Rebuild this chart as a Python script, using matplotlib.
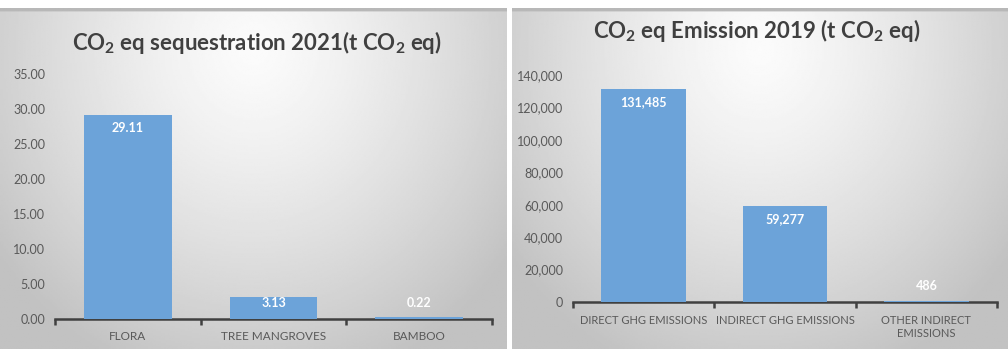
import numpy as np
import matplotlib
matplotlib.use("Agg")
import matplotlib.pyplot as plt

plt.rcParams['font.family'] = ['Lato', 'DejaVu Sans']
plt.rcParams['mathtext.fontset'] = 'custom'
plt.rcParams['mathtext.rm'] = 'Lato'
plt.rcParams['mathtext.it'] = 'Lato'
plt.rcParams['mathtext.bf'] = 'Lato:bold'

# data
seq_labels = ['FLORA', 'TREE MANGROVES', 'BAMBOO']
seq_values = [29.11, 3.13, 0.22]
seq_ticks = [0, 5, 10, 15, 20, 25, 30, 35]

emi_labels = ['DIRECT GHG EMISSIONS', 'INDIRECT GHG EMISSIONS', 'OTHER INDIRECT\nEMISSIONS']
emi_values = [131485, 59277, 486]
emi_ticks = [0, 20000, 40000, 60000, 80000, 100000, 120000, 140000]

W, H = 1008, 349
bar_color = '#6CA3D9'
text_gray = '#595959'

fig = plt.figure(figsize=(W / 100, H / 100), dpi=100)


def px(x0, y0, x1, y1):
    # pixel box (top-left origin) -> figure fraction rect
    return [x0 / W, 1 - y1 / H, (x1 - x0) / W, (y1 - y0) / H]


def panel_bg(rect):
    bg = fig.add_axes(rect, zorder=0)
    yy, xx = np.mgrid[0:1:200j, 0:1:300j]
    r = np.sqrt(((xx - 0.5) / 0.62) ** 2 + ((yy - 0.12) / 1.0) ** 2)
    v = np.clip(0.985 - 0.22 * r ** 1.3, 0.76, 1)
    v[0:2, :] = 0.72  # thin top edge
    bg.imshow(v, cmap='gray', vmin=0, vmax=1, aspect='auto', extent=[0, 1, 1, 0])
    bg.set_axis_off()
    return bg


def draw(rect, labels, values, ticks, ymax, fmt, title, title_xy, rng_px, xlab_size):
    ax = fig.add_axes(rect, zorder=2)
    ax.patch.set_alpha(0)
    x = np.arange(len(values))
    ax.bar(x, values, width=0.6, color=bar_color, zorder=3)
    ax.set_xlim(-0.5, len(values) - 0.5)
    ax.set_ylim(0, ymax)
    ax.set_yticks(ticks)
    ax.set_yticklabels([fmt(t) for t in ticks])
    ax.set_xticks(x)
    ax.set_xticklabels(labels, linespacing=1.3)
    ax.set_xticks(np.arange(len(values) + 1) - 0.5, minor=True)
    for s in ['top', 'right', 'left']:
        ax.spines[s].set_visible(False)
    ax.spines['bottom'].set_color('#404040')
    ax.spines['bottom'].set_linewidth(1.8)
    ax.tick_params(axis='y', length=0, pad=7, labelsize=9, labelcolor=text_gray)
    ax.tick_params(axis='x', which='major', length=0, pad=9, labelsize=xlab_size, labelcolor=text_gray)
    ax.tick_params(axis='x', which='minor', length=4, width=1.8, color='#404040', direction='out')
    per_px = ymax / rng_px
    for xi, v in zip(x, values):
        if v / per_px < 30:
            y = 16 * per_px
        else:
            y = v - 13 * per_px
        ax.text(xi, y, fmt(v) if isinstance(v, int) else '%.2f' % v, ha='center', va='center',
                color='white', fontsize=9, fontweight='bold', zorder=4)
    fig.text(title_xy[0] / W, 1 - title_xy[1] / H, title, ha='center', va='center',
             fontsize=16, color='#404040', fontweight='bold')
    return ax


panel_bg(px(0, 8, 507, 349))
panel_bg(px(512, 8, 1008, 349))

draw(px(55, 74, 492, 319), seq_labels, seq_values, seq_ticks, 35,
     lambda t: '%.2f' % t, r'CO$_\mathbf{2}$ eq sequestration 2021(t CO$_\mathbf{2}$ eq)', (257, 42), 245, 8.5)
draw(px(573, 75, 997, 302), emi_labels, emi_values, emi_ticks, 140000,
     lambda t: '{:,}'.format(int(t)), r'CO$_\mathbf{2}$ eq Emission 2019 (t CO$_\mathbf{2}$ eq)', (757, 30), 227, 8)

fig.savefig('out.png', dpi=100)
